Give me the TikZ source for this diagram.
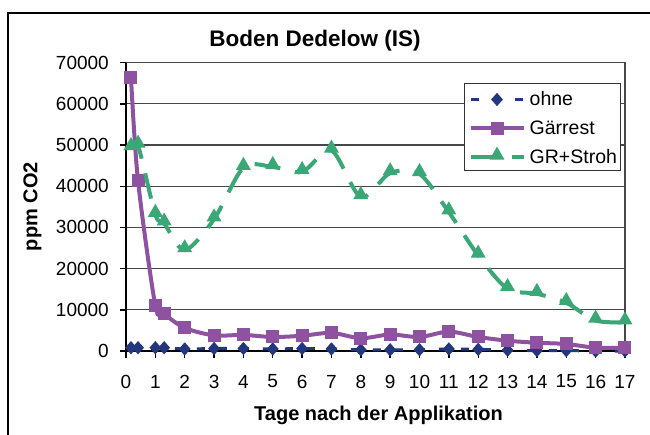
\documentclass[tikz,border=0pt]{standalone}
\usepackage{fontspec}
\setmainfont{Liberation Sans}
\usetikzlibrary{shapes.geometric}

\definecolor{ohneblue}{RGB}{35,55,125}
\definecolor{gaerpurple}{RGB}{142,82,160}
\definecolor{strohgreen}{RGB}{58,168,118}

\begin{document}
\begin{tikzpicture}[x=1pt,y=-1pt,
  gridline/.style={black!72,line width=1.2pt},
  axisline/.style={black,line width=1.4pt},
  ticklabel/.style={font=\fontsize{19}{22}\selectfont,inner sep=0pt},
  axistitle/.style={font=\fontsize{20}{24}\selectfont\bfseries,inner sep=0pt},
  legendtext/.style={font=\fontsize{19.5}{23}\selectfont,inner sep=0pt,anchor=base west},
  ohneline/.style={ohneblue,line width=3pt,dash pattern=on 8pt off 14pt},
  gaerline/.style={gaerpurple,line width=4pt},
  strohline/.style={strohgreen,line width=4pt,dash pattern=on 26pt off 15pt},
  ohnemark/.style={diamond,fill=ohneblue,inner sep=0pt,minimum width=12pt,minimum height=13.5pt},
  gaermark/.style={rectangle,fill=gaerpurple,inner sep=0pt,minimum size=13pt},
  strohmark/.style={regular polygon,regular polygon sides=3,fill=strohgreen,inner sep=0pt,minimum size=17.3pt,yshift=2.2pt},
]
\useasboundingbox (0,0) rectangle (650,435);
\fill[white] (0,0) rectangle (650,435);

% outer chart frame (runs off the right and bottom edges)
\draw[line width=2.3pt] (652,13.3) -- (8.3,13.3) -- (8.3,437);

% title
\node[font=\fontsize{22.5}{27}\selectfont\bfseries,anchor=base,inner sep=0pt] (title) at (315,46.5) {Boden Dedelow (IS)};

% plot area: days along x, ppm/1000 along y
\begin{scope}[shift={(126,351)},x=29.35pt,y=4.119pt]
  \foreach \v in {10,20,...,60}
    \draw[gridline] (0,\v) -- (17,\v);
  \draw[gridline] (0,70) -- (17,70) -- (17,0);
  \draw[axisline] (0,0) -- (0,70);
  \draw[axisline] (0,0) -- (17,0);
  \foreach \v in {0,10,...,70}
    \draw[axisline] (0,\v) -- ++(-6.5pt,0pt);
  \foreach \d in {0,...,17}
    \draw[axisline] (\d,0) -- ++(0pt,-7pt);

  \foreach \v/\t in {0/0,10/10000,20/20000,30/30000,40/40000,50/50000,60/60000,70/70000}
    \node[ticklabel,anchor=east] (yl\v) at ([xshift=-17pt]0,\v) {\t};
  \foreach \d in {0,...,17}
    \node[ticklabel] (xl\d) at ([yshift=-30.5pt]\d,0) {\d};

  % measured series
  \foreach \d/\v [count=\i] in {0.17/0.8,0.41/0.8,1/0.8,1.3/0.8,2/0.5,3/0.6,4/0.6,5/0.5,6/0.6,7/0.5,8/0.3,9/0.3,10/0.3,11/0.5,12/0.4,13/0.2,14/0.1,15/0.1,16/0,17/0}
    \coordinate (o\i) at (\d,\v);
  \foreach \d/\v [count=\i] in {0.17/66.4,0.41/41.3,1/11.0,1.3/9.0,2/5.6,3/3.8,4/3.9,5/3.4,6/3.7,7/4.4,8/3.1,9/4.0,10/3.4,11/4.7,12/3.4,13/2.5,14/2.0,15/1.7,16/0.8,17/0.8}
    \coordinate (g\i) at (\d,\v);
  \foreach \d/\v [count=\i] in {0.17/49.3,0.41/49.9,1/33.1,1.3/31.0,2/24.5,3/32.0,4/44.5,5/44.7,6/43.5,7/48.7,8/37.4,9/43.2,10/43.0,11/33.7,12/23.2,13/15.1,14/13.9,15/11.7,16/7.4,17/7.0}
    \coordinate (s\i) at (\d,\v);

  % ohne
  \draw[ohneline] plot[smooth,tension=0.5] coordinates {(o1)(o2)(o3)(o4)(o5)(o6)(o7)(o8)(o9)(o10)(o11)(o12)(o13)(o14)(o15)(o16)(o17)(o18)(o19)(o20)};
  \foreach \i in {1,...,20}
    \node[ohnemark] (om\i) at (o\i) {};

  % Gaerrest
  \draw[gaerline] plot[smooth,tension=0.5] coordinates {(g1)(g2)(g3)(g4)(g5)(g6)(g7)(g8)(g9)(g10)(g11)(g12)(g13)(g14)(g15)(g16)(g17)(g18)(g19)(g20)};
  \foreach \i in {1,...,20}
    \node[gaermark] (gm\i) at (g\i) {};

  % GR+Stroh
  \draw[strohline] plot[smooth,tension=0.5] coordinates {(s1)(s2)(s3)(s4)(s5)(s6)(s7)(s8)(s9)(s10)(s11)(s12)(s13)(s14)(s15)(s16)(s17)(s18)(s19)(s20)};
  \foreach \i in {1,...,20}
    \node[strohmark] (sm\i) at (s\i) {};
\end{scope}

% axis titles
\node[axistitle,anchor=base] (xtitle) at (378.5,420.5) {Tage nach der Applikation};
\node[axistitle,anchor=base,rotate=90] (ytitle) at (37.3,206.7) {ppm CO2};

% legend
\node[draw=black!80,line width=1.2pt,fill=white,inner sep=0pt,minimum width=156pt,minimum height=87pt,anchor=north west] (legend) at (464,83) {};
\coordinate (la1) at (470.7,99.5);  \coordinate (lb1) at (524,99.5);
\coordinate (la2) at (470.7,128.5); \coordinate (lb2) at (524,128.5);
\coordinate (la3) at (470.7,157.5); \coordinate (lb3) at (524,157.5);
\draw[ohneline] (la1) -- (lb1);
\node[ohnemark] (lm1) at (497,99.5) {};
\node[legendtext] (lt1) at (529.5,106) {ohne};
\draw[gaerline] (la2) -- (lb2);
\node[gaermark] (lm2) at (497,128.5) {};
\node[legendtext] (lt2) at (529.5,135) {Gärrest};
\draw[strohline] (la3) -- (lb3);
\node[strohmark] (lm3) at (497,157.5) {};
\node[legendtext] (lt3) at (529.5,164) {GR+Stroh};
\end{tikzpicture}
\end{document}
